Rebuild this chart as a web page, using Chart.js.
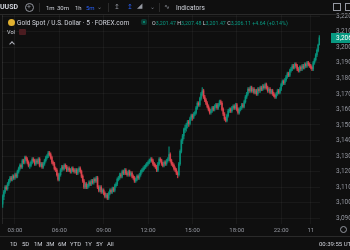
<!DOCTYPE html>
<html>
<head>
<meta charset="utf-8">
<script src="https://cdn.jsdelivr.net/npm/chart.js@4.4.1/dist/chart.umd.min.js"></script>
<style>
  html, body { margin: 0; padding: 0; background: #0f0f0f; width: 350px; height: 250px; overflow: hidden; font-family: Roboto, "Liberation Sans", sans-serif; }
  #wrap { position: absolute; left: 0; top: 0; width: 372px; height: 236px; }
  .t { position: absolute; white-space: nowrap; line-height: 1; color: #d1d4dc; }
  .ln { position: absolute; background: #2a2a2a; }
  .g { color: #089981; }
</style>
</head>
<body>
<div class="ln" style="left:2px;top:15px;width:1px;height:209px;background:#262626;"></div>
<div id="wrap"><canvas id="chart" width="372" height="236"></canvas></div>

<!-- top toolbar -->
<div class="ln" style="left:0;top:14px;width:350px;height:1px;"></div>
<div class="t" style="left:0;top:4px;font-size:7px;font-weight:bold;">UUSD</div>
<div style="position:absolute;left:25px;top:3px;width:7px;height:7px;border:1px solid #9598a1;border-radius:50%;"></div>
<div class="t" style="left:27px;top:3.5px;font-size:7px;color:#9598a1;">+</div>
<div class="ln" style="left:39px;top:3px;width:1px;height:9px;"></div>
<div class="t" style="left:46px;top:4.5px;font-size:6px;">1m</div>
<div class="t" style="left:57px;top:4.5px;font-size:6px;">30m</div>
<div class="t" style="left:75px;top:4.5px;font-size:6px;">1h</div>
<div class="t" style="left:86px;top:4.5px;font-size:6px;color:#2962ff;">5m</div>
<div class="t" style="left:97px;top:3.5px;font-size:6px;color:#787b86;">&#8964;</div>
<div class="ln" style="left:108px;top:3px;width:1px;height:9px;"></div>
<div class="t" style="left:114px;top:3.5px;font-size:7px;color:#9598a1;">&#8613;</div>
<div class="t" style="left:127px;top:3.5px;font-size:7px;color:#2962ff;">&#8613;</div>
<div class="t" style="left:137px;top:3px;font-size:7px;color:#9598a1;">&#9698;</div>
<div class="t" style="left:150px;top:3.5px;font-size:6px;color:#787b86;">&#8964;</div>
<div class="ln" style="left:159px;top:3px;width:1px;height:9px;"></div>
<div class="t" style="left:164px;top:3.5px;font-size:7px;color:#9598a1;">&#8767;</div>
<div class="t" style="left:176px;top:4.5px;font-size:6.5px;">Indicators</div>
<div style="position:absolute;left:333px;top:3px;width:6px;height:6px;border:1px solid #9598a1;"></div>
<div style="position:absolute;left:345px;top:3px;width:6px;height:6px;border:1px solid #9598a1;"></div>

<!-- legend -->
<div style="position:absolute;left:8px;top:19px;width:7px;height:7px;border-radius:50%;background:#e0b030;"></div>
<div class="t" style="left:17px;top:19.5px;font-size:6.5px;">Gold Spot / U.S. Dollar &middot; 5 &middot; FOREX.com</div>
<div style="position:absolute;left:141px;top:19px;width:6px;height:6px;border-radius:2px;background:#0b3b33;"></div>
<div style="position:absolute;left:143px;top:21px;width:2px;height:2px;border-radius:50%;background:#089981;"></div>
<div class="t" style="left:152px;top:20.5px;font-size:5.3px;">O<span class="g">3,201.47</span> H<span class="g">3,207.48</span> L<span class="g">3,201.47</span> C<span class="g">3,206.11</span> <span class="g">+4.64 (+0.14%)</span></div>
<div class="t" style="left:7px;top:30px;font-size:5.5px;">Vol</div>
<div style="position:absolute;left:19px;top:29px;width:7px;height:6px;border-radius:1px;background:#4a1c20;"></div>
<div style="position:absolute;left:10px;top:42px;width:3px;height:3px;border-left:1px solid #b2b5be;border-top:1px solid #b2b5be;transform:rotate(45deg);"></div>

<!-- bottom bar -->
<div class="ln" style="left:0;top:236px;width:350px;height:1px;"></div>
<div style="position:absolute;left:340px;top:226px;width:5px;height:5px;border:1px solid #9598a1;border-radius:50%;"></div>
<div class="t" style="left:10px;top:241px;font-size:6px;">1D</div>
<div class="t" style="left:22px;top:241px;font-size:6px;">5D</div>
<div class="t" style="left:34px;top:241px;font-size:6px;">1M</div>
<div class="t" style="left:46px;top:241px;font-size:6px;">3M</div>
<div class="t" style="left:58px;top:241px;font-size:6px;">6M</div>
<div class="t" style="left:70px;top:241px;font-size:6px;">YTD</div>
<div class="t" style="left:85px;top:241px;font-size:6px;">1Y</div>
<div class="t" style="left:96px;top:241px;font-size:6px;">5Y</div>
<div class="t" style="left:107px;top:241px;font-size:6px;">All</div>
<div class="t" style="left:319px;top:241px;font-size:6px;">00:39:55 UTC</div>

<script>
// 5-minute candles, XAUUSD, one row per hour
const closes = [
  3104, 3107, 3110, 3109, 3112, 3114, 3116, 3115, 3117, 3116,
  3118, 3117, 3120, 3122, 3124, 3123, 3127, 3126, 3129, 3128, 3126, 3124,
  3124, 3126, 3128, 3127, 3125, 3127, 3126, 3128, 3124, 3125, 3123, 3125,
  3127, 3129, 3130, 3132, 3131, 3129, 3126, 3125, 3122, 3121, 3118, 3115,
  3118, 3121, 3123, 3122, 3124, 3123, 3121, 3122, 3121, 3120, 3122, 3121,
  3120, 3121, 3119, 3121, 3122, 3120, 3117, 3114, 3110, 3112, 3110, 3111,
  3113, 3112, 3114, 3113, 3115, 3114, 3116, 3110, 3108, 3110, 3107, 3108,
  3106, 3104, 3105, 3103, 3106, 3108, 3107, 3109, 3108, 3111, 3112, 3115,
  3116, 3118, 3117, 3120, 3119, 3121, 3119, 3118, 3120, 3118, 3119, 3117,
  3116, 3114, 3115, 3117, 3116, 3118, 3120, 3121, 3122, 3123, 3124, 3125,
  3126, 3127, 3128, 3127, 3125, 3124, 3123, 3121, 3125, 3128, 3127, 3125,
  3124, 3126, 3125, 3127, 3128, 3131, 3127, 3125, 3124, 3122, 3121, 3119,
  3118, 3125, 3133, 3140, 3143, 3147, 3148, 3150, 3152, 3151, 3154, 3156,
  3155, 3157, 3158, 3161, 3164, 3163, 3167, 3170, 3172, 3168, 3166, 3164,
  3162, 3160, 3158, 3159, 3161, 3160, 3162, 3163, 3161, 3163, 3165, 3164,
  3160, 3157, 3154, 3153, 3156, 3159, 3160, 3159, 3161, 3162, 3161, 3163,
  3160, 3158, 3160, 3161, 3163, 3162, 3165, 3168, 3170, 3173, 3172, 3174,
  3172, 3173, 3171, 3172, 3170, 3173, 3172, 3174, 3173, 3175, 3174, 3176,
  3174, 3172, 3173, 3171, 3172, 3170, 3169, 3168, 3170, 3172, 3171, 3173,
  3176, 3178, 3177, 3179, 3181, 3183, 3182, 3185, 3186, 3188, 3187, 3189,
  3188, 3186, 3185, 3187, 3186, 3188, 3187, 3189, 3188, 3190, 3189, 3188,
  3187, 3186, 3190, 3192, 3195, 3198, 3201.47, 3206.11
];
const highs = [
  3105, 3108, 3111, 3111, 3113, 3115, 3117, 3117, 3118, 3118,
  3119, 3119, 3121, 3123, 3125, 3125, 3128, 3128, 3130, 3130, 3129, 3127,
  3125, 3127, 3129, 3129, 3128, 3128, 3128, 3129, 3129, 3126, 3126, 3126,
  3128, 3130, 3131, 3133, 3133, 3132, 3130, 3127, 3126, 3123, 3122, 3119,
  3119, 3122, 3124, 3124, 3125, 3125, 3124, 3123, 3123, 3122, 3123, 3123,
  3122, 3122, 3122, 3122, 3123, 3123, 3121, 3118, 3115, 3113, 3113, 3112,
  3114, 3114, 3115, 3115, 3116, 3116, 3117, 3117, 3111, 3111, 3111, 3109,
  3109, 3107, 3106, 3106, 3107, 3109, 3109, 3110, 3110, 3112, 3113, 3116,
  3117, 3119, 3119, 3121, 3121, 3122, 3122, 3120, 3121, 3121, 3120, 3120,
  3118, 3117, 3116, 3118, 3118, 3119, 3121, 3122, 3123, 3124, 3125, 3126,
  3127, 3128, 3129, 3129, 3128, 3126, 3125, 3124, 3126, 3129, 3129, 3128,
  3126, 3127, 3127, 3128, 3129, 3136, 3132, 3128, 3126, 3125, 3123, 3122,
  3120, 3126, 3134, 3141, 3144, 3148, 3150, 3151, 3153, 3153, 3155, 3157,
  3157, 3158, 3159, 3162, 3165, 3165, 3168, 3171, 3174, 3173, 3169, 3167,
  3165, 3163, 3161, 3160, 3162, 3162, 3163, 3164, 3164, 3164, 3166, 3166,
  3165, 3161, 3158, 3155, 3157, 3160, 3161, 3161, 3162, 3163, 3163, 3164,
  3164, 3161, 3161, 3162, 3164, 3164, 3166, 3169, 3171, 3174, 3174, 3175,
  3175, 3174, 3174, 3173, 3173, 3174, 3174, 3175, 3175, 3176, 3176, 3177,
  3177, 3175, 3174, 3174, 3173, 3173, 3171, 3170, 3171, 3173, 3173, 3174,
  3177, 3179, 3179, 3180, 3182, 3184, 3184, 3186, 3187, 3189, 3189, 3190,
  3190, 3189, 3187, 3188, 3188, 3189, 3189, 3190, 3190, 3191, 3191, 3190,
  3189, 3188, 3191, 3193, 3196, 3199, 3202, 3207.48
];
const lows = [
  3097, 3102, 3106, 3108, 3108, 3111, 3113, 3114, 3114, 3115,
  3115, 3116, 3116, 3119, 3121, 3122, 3122, 3125, 3125, 3127, 3125, 3123,
  3122, 3123, 3125, 3126, 3124, 3124, 3125, 3125, 3123, 3123, 3122, 3122,
  3124, 3126, 3128, 3129, 3130, 3128, 3125, 3124, 3121, 3120, 3117, 3114,
  3114, 3117, 3120, 3121, 3121, 3122, 3120, 3120, 3120, 3119, 3119, 3120,
  3119, 3119, 3118, 3118, 3120, 3119, 3116, 3113, 3109, 3109, 3109, 3109,
  3110, 3111, 3111, 3112, 3112, 3113, 3113, 3109, 3107, 3107, 3106, 3106,
  3105, 3103, 3103, 3102, 3102, 3105, 3106, 3106, 3107, 3107, 3110, 3111,
  3114, 3115, 3116, 3116, 3118, 3118, 3118, 3117, 3117, 3117, 3117, 3116,
  3115, 3113, 3113, 3114, 3115, 3115, 3117, 3119, 3120, 3121, 3122, 3123,
  3124, 3125, 3126, 3126, 3124, 3123, 3122, 3120, 3120, 3124, 3126, 3124,
  3123, 3123, 3124, 3124, 3126, 3127, 3126, 3124, 3123, 3121, 3120, 3118,
  3116, 3117, 3124, 3132, 3138, 3141, 3145, 3146, 3148, 3149, 3150, 3153,
  3153, 3154, 3156, 3157, 3160, 3162, 3162, 3166, 3169, 3167, 3165, 3163,
  3161, 3159, 3157, 3157, 3158, 3159, 3159, 3161, 3160, 3160, 3162, 3163,
  3159, 3156, 3153, 3152, 3152, 3155, 3158, 3158, 3158, 3160, 3160, 3160,
  3159, 3157, 3157, 3159, 3160, 3161, 3161, 3164, 3167, 3169, 3171, 3171,
  3171, 3171, 3170, 3170, 3169, 3169, 3171, 3171, 3172, 3172, 3173, 3173,
  3173, 3171, 3171, 3170, 3170, 3169, 3168, 3167, 3167, 3169, 3170, 3170,
  3172, 3175, 3176, 3176, 3178, 3180, 3181, 3181, 3184, 3185, 3186, 3186,
  3187, 3185, 3184, 3184, 3185, 3185, 3186, 3186, 3187, 3187, 3188, 3187,
  3186, 3185, 3185, 3189, 3191, 3194, 3197, 3201.47
];
const firstOpen = 3099;

// trading sessions shown (daily break 21:00-22:00 UTC is skipped)
const sessions = [["02:10", "20:55"], ["22:00", "00:35"]];
const timeTicks = ["03:00", "06:00", "09:00", "12:00", "15:00", "18:00", "22:00", "00:00"];
const timeTickText = { "00:00": "11" };
const priceTicks = [3090, 3100, 3110, 3120, 3130, 3140, 3150, 3160, 3170, 3180, 3190, 3200, 3210, 3220];

const up = "#089981";
const down = "#f23645";
const upCandle = "rgba(8,153,129,0.8)";
const downCandle = "rgba(230,70,80,0.8)";

function toMin(s) {
  const p = s.split(":");
  return +p[0] * 60 + +p[1];
}
function fmt(m) {
  const h = Math.floor(m / 60), mm = m % 60;
  return String(h).padStart(2, "0") + ":" + String(mm).padStart(2, "0");
}

const times = [];
sessions.forEach(function (s) {
  let m = toMin(s[0]);
  let end = toMin(s[1]);
  if (end < m) end += 1440;
  for (; m <= end; m += 5) times.push(fmt(m % 1440));
});

const opens = closes.map((c, i) => (i === 0 ? firstOpen : closes[i - 1]));
const colors = closes.map((c, i) => (c >= opens[i] ? upCandle : downCandle));

const lastTag = {
  id: "lastTag",
  afterDraw(chart) {
    const ctx = chart.ctx;
    const area = chart.chartArea;
    const v = closes[closes.length - 1];
    const y = chart.scales.y.getPixelForValue(v);
    ctx.save();
    ctx.fillStyle = up;
    ctx.fillRect(area.right + 11, Math.round(y) - 5, 45, 10);
    ctx.fillStyle = "#ffffff";
    ctx.font = "6.5px Roboto";
    ctx.textBaseline = "middle";
    ctx.fillText(v.toLocaleString("en-US", { minimumFractionDigits: 2 }), area.right + 16, Math.round(y) + 0.5);
    ctx.restore();
  },
};

const ctx = document.getElementById("chart").getContext("2d");
new Chart(ctx, {
  type: "bar",
  data: {
    labels: times,
    datasets: [
      {
        label: "wick",
        data: lows.map((l, i) => [l, highs[i]]),
        backgroundColor: colors,
        barThickness: 0.7,
        grouped: false,
        order: 2,
      },
      {
        label: "body",
        data: opens.map((o, i) => [o, closes[i]]),
        backgroundColor: colors,
        barThickness: 1,
        grouped: false,
        order: 1,
      },
    ],
  },
  options: {
    responsive: false,
    devicePixelRatio: 1,
    animation: false,
    layout: { padding: { left: 2, top: 15, right: 0, bottom: 0 } },
    plugins: { legend: { display: false }, tooltip: { enabled: false } },
    scales: {
      x: {
        type: "category",
        offset: true,
        grid: { color: "rgba(255,255,255,0.045)", drawTicks: false, offset: false },
        border: { display: false },
        ticks: {
          autoSkip: false,
          maxRotation: 0,
          color: "#9598a1",
          font: { size: 6, family: "Roboto" },
          padding: 3,
          callback: function (v) {
            const t = this.getLabelForValue(v);
            return timeTicks.includes(t) ? timeTickText[t] || t : null;
          },
        },
        afterFit(s) {
          s.height = 12;
          s.paddingLeft = 0;
          s.paddingRight = 0;
        },
      },
      y: {
        position: "right",
        min: 3086.3,
        max: 3220.74,
        grid: { color: "rgba(255,255,255,0.045)", drawTicks: false },
        border: { display: false },
        afterBuildTicks(s) {
          s.ticks = priceTicks.map((v) => ({ value: v }));
        },
        ticks: {
          color: "#9598a1",
          font: { size: 6.5, family: "Roboto" },
          padding: 16,
          callback: (v) => v.toLocaleString("en-US", { minimumFractionDigits: 2 }),
        },
        afterFit(s) {
          s.width = 52;
          s.paddingTop = 0;
          s.paddingBottom = 0;
        },
      },
    },
  },
  plugins: [lastTag],
});
</script>
</body>
</html>
